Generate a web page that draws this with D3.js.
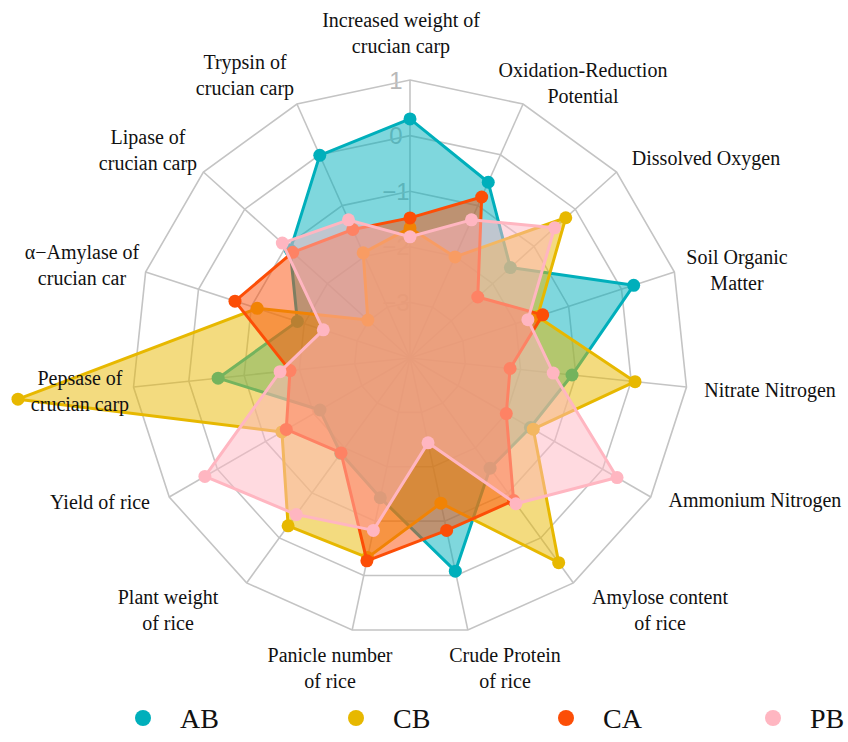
<!DOCTYPE html>
<html>
<head>
<meta charset="utf-8">
<script src="https://cdn.jsdelivr.net/npm/d3@7"></script>
<style>
  html, body { margin: 0; padding: 0; background: #fff; }
  svg { display: block; }
</style>
</head>
<body>
<svg id="chart" width="848" height="742"></svg>
<script>
// ---------------- DATA ----------------
const axes = [
  ["Increased weight of", "crucian carp"],
  ["Oxidation-Reduction", "Potential"],
  ["Dissolved Oxygen"],
  ["Soil Organic", "Matter"],
  ["Nitrate Nitrogen"],
  ["Ammonium Nitrogen"],
  ["Amylose content", "of rice"],
  ["Crude Protein", "of rice"],
  ["Panicle number", "of rice"],
  ["Plant weight", "of rice"],
  ["Yield of rice"],
  ["Pepsase of", "crucian carp"],
  ["\u03b1\u2212Amylase of", "crucian car"],
  ["Lipase of", "crucian carp"],
  ["Trypsin of", "crucian carp"]
];
const seriesNames = ["AB", "CB", "CA", "PB"];
const AB = [0.30, -0.54, -1.57, 0.23, -1.07, -1.50, -1.55, -0.08, -1.43, -1.88, -2.13, -0.53, -1.87, -1.10, -0.01];
const CB = [-1.66, -2.01, -0.23, -1.59, 0.07, -1.44, 0.55, -1.33, -0.33, -0.27, -1.34, 3.09, -1.11, -2.98, -1.93];
const CA = [-1.48, -0.83, -2.36, -1.49, -2.19, -2.00, -0.83, -0.83, -0.27, -1.89, -1.43, -1.83, -0.69, -1.16, -1.47];
const PB = [-1.82, -1.28, -0.50, -1.77, -1.41, 0.30, -0.76, -2.44, -0.83, -0.52, 0.26, -1.65, -2.36, -0.91, -1.28];
const gridTicks = [-3, -2, -1, 0, 1];
const tickLabels = ["\u22123", "\u22122", "\u22121", "0", "1"];
const colors = ["#00AFBB", "#E7B800", "#FC4E07", "#FFB6C1"];

// ---------------- LAYOUT ----------------
const cx = 410, cy = 358, R = 278;
const labelLayout = [
  [401, 20], [583, 70], [706, 158], [737, 257], [770, 390],
  [755, 500], [660, 597], [505, 655], [330, 655], [168, 597],
  [100, 502], [80, 378], [82, 252], [148, 137], [245, 62]
];
const legendX = [143, 356, 566, 773];
const legendY = 718;

const svg = d3.select("#chart");
const n = axes.length;
const r = d3.scaleLinear().domain([-4, 1]).range([0, R]);
const angle = d3.scaleLinear().domain([0, n]).range([0, 2 * Math.PI]);
const pt = (i, v) => {
  const a = angle(i);
  return [cx + r(v) * Math.sin(a), cy - r(v) * Math.cos(a)];
};

const g = svg.append("g");

// tick labels (under everything)
g.selectAll(".tick").data(gridTicks).join("text")
  .attr("x", cx - 14)
  .attr("y", d => cy - r(d))
  .attr("text-anchor", "middle")
  .attr("dominant-baseline", "central")
  .attr("font-family", "Liberation Sans, Arial, sans-serif")
  .attr("font-size", 24)
  .attr("fill", "#b8b8b8")
  .text((d, i) => tickLabels[i]);

// grid rings
const ringLine = d3.line();
g.selectAll(".ring").data(gridTicks).join("path")
  .attr("d", t => ringLine(d3.range(n).map(i => pt(i, t))) + "Z")
  .attr("fill", "none")
  .attr("stroke", "#c4c4c4")
  .attr("stroke-width", 1.6);

// spokes
g.selectAll(".spoke").data(d3.range(n)).join("line")
  .attr("x1", cx).attr("y1", cy)
  .attr("x2", i => pt(i, 1)[0])
  .attr("y2", i => pt(i, 1)[1])
  .attr("stroke", "#c4c4c4")
  .attr("stroke-width", 1.6);

// series
const allSeries = [AB, CB, CA, PB];
allSeries.forEach((vals, s) => {
  const pts = vals.map((v, i) => pt(i, v));
  const sg = g.append("g");
  sg.append("path")
    .attr("d", d3.line()(pts) + "Z")
    .attr("fill", colors[s])
    .attr("fill-opacity", 0.5)
    .attr("stroke", colors[s])
    .attr("stroke-width", 3)
    .attr("stroke-linejoin", "round");
  sg.selectAll("circle").data(pts).join("circle")
    .attr("cx", d => d[0]).attr("cy", d => d[1])
    .attr("r", 6.5)
    .attr("fill", colors[s]);
});

// axis labels
axes.forEach((lines, i) => {
  const [x, y] = labelLayout[i];
  const t = g.append("text")
    .attr("font-family", "'Liberation Serif', 'Times New Roman', serif")
    .attr("font-size", 20)
    .attr("fill", "#111")
    .attr("text-anchor", "middle");
  lines.forEach((ln, k) => {
    t.append("tspan").attr("x", x).attr("y", y + k * 26)
      .attr("dominant-baseline", "central")
      .text(ln);
  });
});

// legend
const lg = svg.append("g");
seriesNames.forEach((name, s) => {
  lg.append("circle")
    .attr("cx", legendX[s]).attr("cy", legendY)
    .attr("r", 8)
    .attr("fill", colors[s]);
  lg.append("text")
    .attr("x", legendX[s] + 37).attr("y", legendY)
    .attr("dominant-baseline", "central")
    .attr("font-family", "'Liberation Serif', 'Times New Roman', serif")
    .attr("font-size", 28)
    .attr("fill", "#111")
    .text(name);
});
</script>
</body>
</html>
